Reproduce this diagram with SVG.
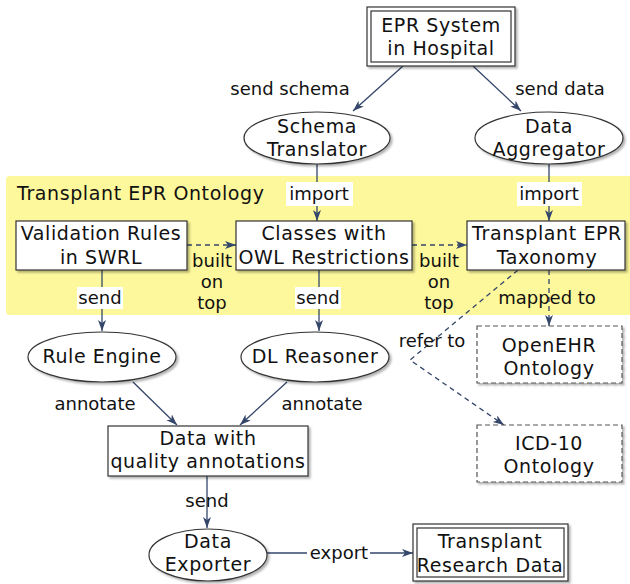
<svg xmlns="http://www.w3.org/2000/svg" width="630" height="584" viewBox="0 0 630 584">
  <style>
    text { font-family: "DejaVu Sans", "Liberation Sans", sans-serif; font-size: 19px; letter-spacing: 0.6px; fill: #111; }
    text.e { font-size: 18px; letter-spacing: 0; }
    .c { text-anchor: middle; }
    .node { fill: #fff; stroke: #333; stroke-width: 1.2; filter: url(#shadow); }
    .inner { fill: none; stroke: #333; stroke-width: 1.2; }
    .ext { fill: #fff; stroke: #555; stroke-width: 1.2; stroke-dasharray: 5 3; filter: url(#shadow); }
    .edge { fill: none; stroke: #34466a; stroke-width: 1.3; marker-end: url(#arrow); }
    .dash { stroke-dasharray: 5 4; }
    .lbl { fill: #fff; }
  </style>
  <defs>
    <filter id="shadow" x="-10%" y="-10%" width="130%" height="140%">
      <feDropShadow dx="2" dy="2" stdDeviation="1" flood-color="#000" flood-opacity="0.3"/>
    </filter>
    <marker id="arrow" markerUnits="userSpaceOnUse" markerWidth="12" markerHeight="10" refX="11" refY="4" orient="auto">
      <path d="M0,0 L11,4 L0,8 L3,4 z" fill="#34466a"/>
    </marker>
  </defs>

  <!-- ontology cluster -->
  <g id="cluster-ontology">
    <rect x="6" y="176" width="630" height="139" rx="4" fill="#fdf89b"/>
    <text x="17" y="200">Transplant EPR Ontology</text>
  </g>

  <!-- connectors -->
  <g id="connectors">
    <path class="edge" d="M403,66 L353,111"/>
    <path class="edge" d="M473,66 L521,111"/>
    <path class="edge" d="M317,164 L317,221"/>
    <path class="edge" d="M549,164 L549,221"/>
    <path class="edge dash" d="M187,245 L236,245"/>
    <path class="edge dash" d="M412,245 L467,245"/>
    <path class="edge" d="M102,270 L102,331"/>
    <path class="edge" d="M319,270 L319,331"/>
    <path class="edge dash" d="M549,270 L549,326"/>
    <path class="edge dash" d="M518,270 L410,360 L504,425"/>
    <path class="edge" d="M133,382 L177,425"/>
    <path class="edge" d="M287,382 L240,425"/>
    <path class="edge" d="M207,476 L207,528"/>
    <path class="edge" d="M267,553 L413,553"/>

    <!-- connector labels -->
    <text class="c e" x="290" y="95">send schema</text>
    <text class="c e" x="560" y="95">send data</text>
    <rect class="lbl" x="286" y="182" width="67" height="24"/>
    <text class="c e" x="319" y="200">import</text>
    <rect class="lbl" x="517" y="182" width="65" height="24"/>
    <text class="c e" x="549" y="200">import</text>
    <text class="c e" x="212" y="267">built</text>
    <text class="c e" x="212" y="288">on</text>
    <text class="c e" x="212" y="309">top</text>
    <text class="c e" x="439" y="267">built</text>
    <text class="c e" x="439" y="288">on</text>
    <text class="c e" x="439" y="309">top</text>
    <rect class="lbl" x="77" y="287" width="46" height="22"/>
    <text class="c e" x="100" y="304">send</text>
    <rect class="lbl" x="295" y="287" width="46" height="22"/>
    <text class="c e" x="318" y="304">send</text>
    <text class="c e" x="547" y="304">mapped to</text>
    <text class="c e" x="432" y="347">refer to</text>
    <text class="c e" x="95" y="410">annotate</text>
    <text class="c e" x="322" y="410">annotate</text>
    <text class="c e" x="207" y="507">send</text>
    <rect class="lbl" x="307" y="540" width="63" height="24"/>
    <text class="c e" x="339" y="559">export</text>
  </g>

  <!-- nodes -->
  <g id="epr-system">
    <rect class="node" x="367" y="7" width="148" height="59"/>
    <rect class="inner" x="371" y="11" width="140" height="51"/>
    <text class="c" x="441" y="32">EPR System</text>
    <text class="c" x="441" y="55">in Hospital</text>
  </g>
  <g id="schema-translator">
    <ellipse class="node" cx="317" cy="138" rx="73" ry="26"/>
    <text class="c" x="317" y="133">Schema</text>
    <text class="c" x="317" y="156">Translator</text>
  </g>
  <g id="data-aggregator">
    <ellipse class="node" cx="549" cy="138" rx="74" ry="26"/>
    <text class="c" x="549" y="133">Data</text>
    <text class="c" x="549" y="156">Aggregator</text>
  </g>
  <g id="validation-rules">
    <rect class="node" x="16" y="221" width="171" height="49"/>
    <text class="c" x="101" y="240">Validation Rules</text>
    <text class="c" x="101" y="264">in SWRL</text>
  </g>
  <g id="owl-classes">
    <rect class="node" x="236" y="221" width="176" height="49"/>
    <text class="c" x="324" y="240">Classes with</text>
    <text class="c" x="324" y="264">OWL Restrictions</text>
  </g>
  <g id="epr-taxonomy">
    <rect class="node" x="467" y="221" width="158" height="49"/>
    <text class="c" x="547" y="240">Transplant EPR</text>
    <text class="c" x="547" y="264">Taxonomy</text>
  </g>
  <g id="rule-engine">
    <ellipse class="node" cx="102" cy="357" rx="74" ry="25"/>
    <text class="c" x="102" y="363">Rule Engine</text>
  </g>
  <g id="dl-reasoner">
    <ellipse class="node" cx="315" cy="357" rx="74" ry="25"/>
    <text class="c" x="315" y="363">DL Reasoner</text>
  </g>
  <g id="openehr-ontology">
    <rect class="ext" x="477" y="326" width="145" height="57"/>
    <text class="c" x="549" y="352">OpenEHR</text>
    <text class="c" x="549" y="375">Ontology</text>
  </g>
  <g id="icd10-ontology">
    <rect class="ext" x="477" y="425" width="145" height="57"/>
    <text class="c" x="549" y="450">ICD-10</text>
    <text class="c" x="549" y="473">Ontology</text>
  </g>
  <g id="annotated-data">
    <rect class="node" x="108" y="426" width="200" height="50"/>
    <text class="c" x="208" y="445">Data with</text>
    <text class="c" x="208" y="468">quality annotations</text>
  </g>
  <g id="data-exporter">
    <ellipse class="node" cx="208" cy="555" rx="59" ry="26"/>
    <text class="c" x="208" y="548">Data</text>
    <text class="c" x="208" y="571">Exporter</text>
  </g>
  <g id="research-data">
    <rect class="node" x="413" y="524" width="155" height="57"/>
    <rect class="inner" x="417" y="528" width="147" height="49"/>
    <text class="c" x="490" y="548">Transplant</text>
    <text class="c" x="490" y="572">Research Data</text>
  </g>
</svg>
